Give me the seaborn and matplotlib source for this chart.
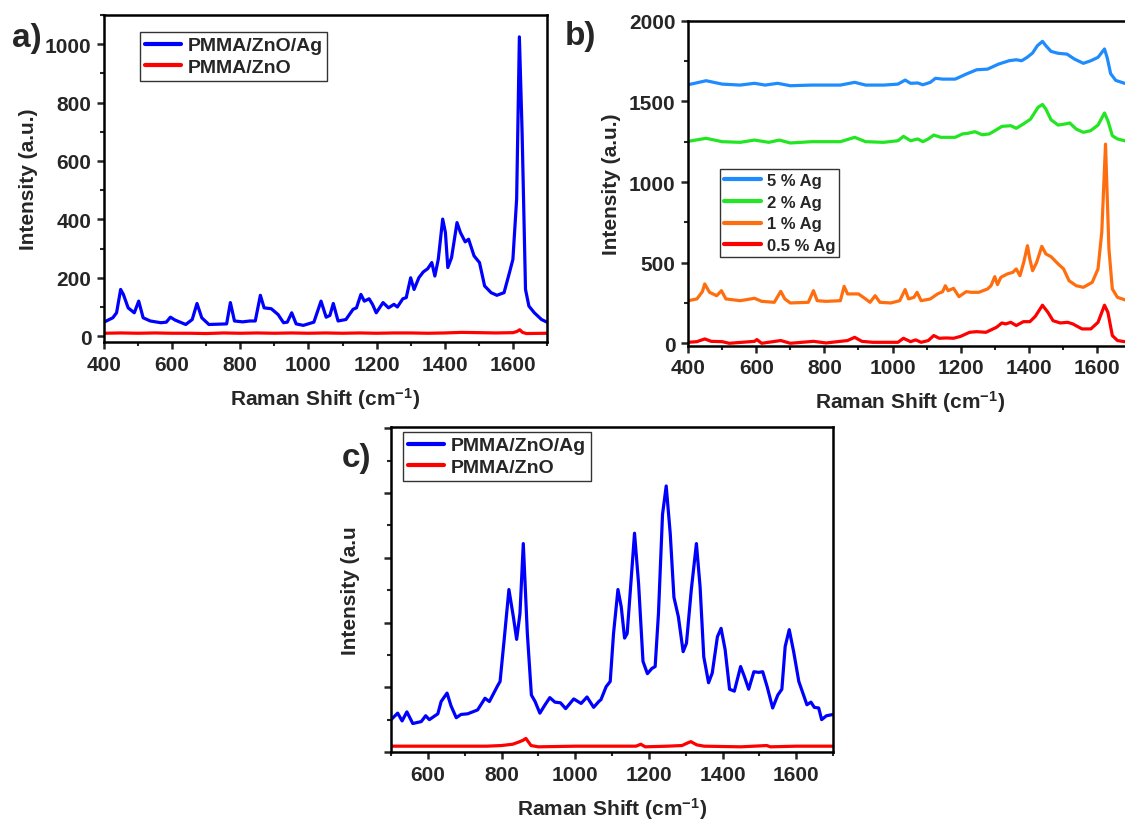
import matplotlib
matplotlib.use("Agg")
import matplotlib.pyplot as plt
import seaborn as sns
from matplotlib.ticker import MultipleLocator

# ---- panel a: PMMA/ZnO/Ag vs PMMA/ZnO ----
a_x = [400, 426, 437, 449, 457, 471, 489, 502, 515, 536,
       567, 583, 595, 609, 640, 659, 673, 687, 708, 760,
       771, 783, 807, 828, 844, 859, 870, 891, 911, 927,
       938, 951, 964, 985, 1016, 1037, 1052, 1063, 1073, 1087,
       1110, 1131, 1141, 1154, 1164, 1178, 1188, 1199, 1219, 1235,
       1251, 1261, 1277, 1287, 1300, 1310, 1324, 1337, 1350, 1362,
       1371, 1381, 1394, 1402, 1409, 1420, 1436, 1446, 1460, 1470,
       1486, 1502, 1517, 1536, 1553, 1574, 1590, 1600, 1611, 1619,
       1627, 1637, 1647, 1663, 1684, 1700]
a_ag = [48, 63, 80, 160, 143, 97, 80, 120, 63, 52,
        46, 48, 65, 55, 40, 57, 112, 63, 40, 42,
        115, 52, 49, 52, 52, 140, 97, 94, 74, 46,
        48, 80, 42, 37, 48, 120, 65, 71, 112, 52,
        57, 92, 97, 143, 120, 128, 109, 80, 115, 97,
        109, 100, 128, 132, 200, 160, 200, 220, 231, 252,
        206, 263, 401, 355, 235, 269, 389, 355, 323, 332,
        275, 252, 172, 149, 140, 149, 218, 263, 470, 1025,
        699, 160, 103, 80, 57, 48]
a_zno_x = [400, 450, 500, 550, 600, 650, 700, 750, 800, 850,
           900, 950, 1000, 1050, 1100, 1150, 1200, 1250, 1300, 1350,
           1400, 1450, 1500, 1550, 1600, 1612, 1620, 1628, 1640, 1700]
a_zno = [10, 11, 10, 11, 10, 10, 9, 11, 10, 11,
         10, 11, 10, 11, 10, 11, 10, 11, 11, 10,
         11, 13, 12, 11, 12, 16, 22, 13, 9, 10]

# ---- panel b: Ag loading ----
b_x5 = [400, 453, 500, 553, 595, 626, 663, 700, 763, 847,
        889, 921, 974, 1016, 1037, 1053, 1074, 1089, 1111, 1126,
        1147, 1184, 1216, 1247, 1279, 1311, 1342, 1363, 1379, 1395,
        1411, 1425, 1440, 1450, 1465, 1486, 1512, 1534, 1560, 1582,
        1603, 1622, 1630, 1640, 1655, 1681, 1700]
b_5 = [1603, 1628, 1607, 1601, 1612, 1601, 1612, 1597, 1601, 1601,
       1618, 1601, 1601, 1607, 1632, 1612, 1614, 1603, 1618, 1643,
       1638, 1638, 1669, 1696, 1700, 1731, 1752, 1758, 1752, 1773,
       1800, 1845, 1872, 1845, 1810, 1798, 1793, 1762, 1736, 1752,
       1773, 1825, 1770, 1672, 1630, 1612, 1605]
b_x2 = [400, 453, 500, 553, 595, 637, 668, 700, 763, 847,
        889, 921, 974, 1016, 1032, 1053, 1074, 1089, 1105, 1121,
        1142, 1184, 1205, 1221, 1242, 1263, 1284, 1305, 1321, 1347,
        1363, 1384, 1405, 1427, 1440, 1450, 1465, 1486, 1507, 1520,
        1539, 1560, 1581, 1603, 1622, 1632, 1645, 1660, 1681, 1700]
b_2 = [1252, 1271, 1250, 1246, 1260, 1246, 1260, 1242, 1250, 1250,
       1277, 1250, 1246, 1256, 1283, 1256, 1267, 1250, 1267, 1291,
       1277, 1277, 1298, 1302, 1312, 1293, 1298, 1324, 1345, 1349,
       1333, 1360, 1390, 1463, 1481, 1452, 1386, 1353, 1360, 1366,
       1328, 1308, 1318, 1353, 1428, 1380, 1287, 1267, 1256, 1252]
b_x1 = [400, 426, 442, 449, 463, 484, 498, 511, 553, 595,
        616, 653, 672, 684, 700, 753, 768, 779, 805, 847,
        858, 868, 900, 921, 934, 949, 963, 995, 1021, 1037,
        1047, 1063, 1072, 1084, 1111, 1132, 1147, 1155, 1163, 1179,
        1195, 1216, 1232, 1253, 1279, 1289, 1300, 1308, 1318, 1337,
        1353, 1363, 1374, 1385, 1396, 1403, 1411, 1423, 1438, 1450,
        1465, 1486, 1502, 1518, 1539, 1560, 1586, 1603, 1614, 1625,
        1635, 1645, 1660, 1681, 1700]
b_1 = [264, 275, 320, 368, 316, 295, 326, 275, 264, 279,
       260, 254, 322, 275, 250, 254, 326, 264, 260, 264,
       353, 306, 306, 275, 254, 295, 254, 250, 264, 333,
       275, 285, 316, 264, 275, 306, 320, 357, 326, 341,
       289, 320, 316, 316, 337, 357, 413, 364, 409, 430,
       440, 461, 419, 502, 605, 521, 450, 502, 601, 554,
       537, 492, 461, 388, 357, 347, 378, 461, 688, 1235,
       585, 337, 285, 270, 262]
b_x05 = [400, 426, 449, 468, 500, 521, 595, 602, 616, 672,
         700, 768, 805, 868, 889, 910, 942, 1016, 1032, 1053,
         1068, 1084, 1105, 1121, 1137, 1158, 1179, 1200, 1226, 1247,
         1274, 1289, 1305, 1321, 1332, 1347, 1363, 1384, 1403, 1419,
         1440, 1456, 1471, 1492, 1514, 1529, 1556, 1582, 1603, 1622,
         1632, 1645, 1660, 1681, 1700]
b_05 = [6, 10, 27, 12, 10, 0, 12, 23, 0, 17,
        0, 12, 2, 17, 37, 12, 6, 6, 31, 10,
        21, 6, 17, 48, 31, 33, 31, 43, 68, 72,
        68, 83, 99, 126, 120, 130, 110, 134, 134, 167,
        236, 192, 140, 126, 130, 120, 89, 89, 130, 236,
        192, 48, 17, 10, 8]

# ---- panel c ----
c_x = [500, 518, 530, 543, 559, 582, 594, 604, 627, 636,
       652, 663, 677, 690, 708, 735, 755, 767, 789, 796,
       807, 820, 832, 841, 850, 859, 870, 881, 891, 904,
       917, 931, 945, 960, 974, 996, 1016, 1032, 1050, 1064,
       1070, 1084, 1095, 1104, 1116, 1125, 1134, 1141, 1151, 1161,
       1172, 1184, 1196, 1208, 1217, 1226, 1237, 1247, 1258, 1268,
       1280, 1293, 1302, 1315, 1329, 1339, 1349, 1362, 1372, 1386,
       1396, 1407, 1419, 1432, 1449, 1459, 1471, 1485, 1498, 1509,
       1521, 1536, 1550, 1561, 1570, 1581, 1593, 1607, 1618, 1629,
       1640, 1649, 1661, 1669, 1682, 1700]
c_ag = [0.50, 0.60, 0.48, 0.62, 0.44, 0.47, 0.56, 0.50, 0.59, 0.78,
        0.91, 0.71, 0.53, 0.58, 0.59, 0.65, 0.83, 0.78, 1.02, 1.09,
        1.73, 2.51, 2.09, 1.74, 2.14, 3.22, 1.83, 0.88, 0.78, 0.60,
        0.72, 0.84, 0.77, 0.76, 0.67, 0.82, 0.75, 0.85, 0.69, 0.78,
        0.81, 1.01, 1.09, 1.83, 2.51, 2.24, 1.76, 1.83, 2.60, 3.38,
        2.60, 1.40, 1.21, 1.29, 1.32, 2.14, 3.67, 4.11, 3.37, 2.39,
        2.09, 1.55, 1.68, 2.50, 3.22, 2.55, 1.47, 1.07, 1.22, 1.78,
        1.91, 1.58, 0.97, 0.94, 1.32, 1.17, 0.97, 1.24, 1.23, 1.24,
        1.01, 0.68, 0.88, 0.97, 1.63, 1.89, 1.55, 1.09, 0.91, 0.73,
        0.77, 0.69, 0.68, 0.50, 0.56, 0.58]
c_zno_x = [500, 600, 700, 760, 800, 830, 845, 858, 866, 880,
           900, 1000, 1100, 1165, 1178, 1190, 1250, 1290, 1305, 1314,
           1330, 1350, 1450, 1520, 1530, 1600, 1700]
c_zno = [0.09, 0.09, 0.09, 0.09, 0.10, 0.12, 0.15, 0.18, 0.21, 0.10,
         0.08, 0.09, 0.09, 0.09, 0.12, 0.08, 0.09, 0.10, 0.14, 0.16,
         0.11, 0.09, 0.08, 0.10, 0.08, 0.09, 0.09]

sns.set_style("ticks")
plt.rcParams['font.family'] = ['Liberation Sans', 'DejaVu Sans']
plt.rcParams['font.weight'] = 'bold'
plt.rcParams['mathtext.fontset'] = 'custom'
plt.rcParams['mathtext.rm'] = 'Liberation Sans'
plt.rcParams['mathtext.bf'] = 'Liberation Sans:bold'
plt.rcParams['mathtext.default'] = 'bf'
plt.rcParams['lines.solid_joinstyle'] = 'round'
plt.rcParams['lines.solid_capstyle'] = 'round'

LW = 2.3
xlab = r'Raman Shift (cm$^{-1}$)'


def style(ax, xlim, ylim, xmaj, xmin, ymaj, ymin, ylabel, ylpad, yticklabels=True):
    ax.set_xlim(*xlim)
    ax.set_ylim(*ylim)
    ax.xaxis.set_major_locator(MultipleLocator(xmaj))
    ax.xaxis.set_minor_locator(MultipleLocator(xmin))
    ax.yaxis.set_major_locator(MultipleLocator(ymaj))
    ax.yaxis.set_minor_locator(MultipleLocator(ymin))
    for s in ax.spines.values():
        s.set_visible(True)
        s.set_linewidth(1.8)
        s.set_color('black')
    ax.tick_params(which='major', direction='out', length=5, width=1.8,
                   labelsize=15, top=False, right=False, pad=4)
    ax.tick_params(which='minor', direction='out', length=3, width=1.5,
                   top=False, right=False)
    for lab in ax.get_xticklabels() + ax.get_yticklabels():
        lab.set_fontweight('bold')
    if not yticklabels:
        ax.set_yticklabels([])
    ax.set_xlabel(xlab, fontsize=15, fontweight='bold', labelpad=8)
    ax.set_ylabel(ylabel, fontsize=15, fontweight='bold', labelpad=ylpad)


def legend(ax, anchor, size, hlen, spacing):
    leg = ax.legend(loc='upper left', bbox_to_anchor=anchor, borderaxespad=0,
                    fancybox=False, framealpha=1, edgecolor='#333333',
                    prop={'size': size, 'weight': 'bold'}, handlelength=hlen,
                    handletextpad=0.35, labelspacing=spacing, borderpad=0.25)
    leg.get_frame().set_linewidth(1.0)
    for line in leg.get_lines():
        line.set_linewidth(3)


fig = plt.figure(figsize=(11.25, 8.2), dpi=100)

# a)
ax_a = fig.add_axes([0.0924, 0.5817, 0.3938, 0.3988])
sns.lineplot(x=a_x, y=a_ag, ax=ax_a, color='#0000FF', linewidth=LW, label='PMMA/ZnO/Ag')
sns.lineplot(x=a_zno_x, y=a_zno, ax=ax_a, color='#FF0000', linewidth=LW, label='PMMA/ZnO')
style(ax_a, (400, 1700), (-20, 1100), 200, 100, 200, 100, 'Intensity (a.u.)', 5)
legend(ax_a, (0.081, 0.948), 14, 1.85, 0.2)

# b)
ax_b = fig.add_axes([0.6116, 0.5772, 0.3938, 0.3963])
sns.lineplot(x=b_x5, y=b_5, ax=ax_b, color='#1E8CFF', linewidth=LW, label='5 % Ag')
sns.lineplot(x=b_x2, y=b_2, ax=ax_b, color='#22E622', linewidth=LW, label='2 % Ag')
sns.lineplot(x=b_x1, y=b_1, ax=ax_b, color='#FF6E0E', linewidth=LW, label='1 % Ag')
sns.lineplot(x=b_x05, y=b_05, ax=ax_b, color='#FF0000', linewidth=LW, label='0.5 % Ag')
style(ax_b, (400, 1700), (-15, 2000), 200, 100, 500, 250, 'Intensity (a.u.)', 6)
legend(ax_b, (0.072, 0.544), 12, 2.2, 0.4)

# c)
ax_c = fig.add_axes([0.3476, 0.0817, 0.3929, 0.3963])
sns.lineplot(x=c_x, y=c_ag, ax=ax_c, color='#0000FF', linewidth=LW, label='PMMA/ZnO/Ag')
sns.lineplot(x=c_zno_x, y=c_zno, ax=ax_c, color='#FF0000', linewidth=LW, label='PMMA/ZnO')
style(ax_c, (500, 1700), (0, 5.02), 200, 100, 1, 0.5, 'Intensity (a.u', 13, yticklabels=False)
legend(ax_c, (0.027, 0.985), 14, 1.85, 0.2)

fig.text(12 / 1125, 1 - 39 / 820, 'a)', fontsize=24, fontweight='bold', va='center', ha='left')
fig.text(565 / 1125, 1 - 36 / 820, 'b)', fontsize=24, fontweight='bold', va='center', ha='left')
fig.text(342 / 1125, 1 - 458 / 820, 'c)', fontsize=24, fontweight='bold', va='center', ha='left')

fig.savefig('out.png', dpi=100)
